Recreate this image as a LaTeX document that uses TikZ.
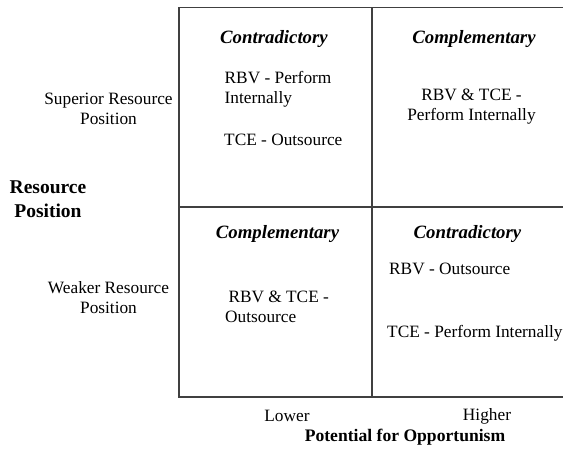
\documentclass[tikz,border=0pt]{standalone}
\usepackage{fontspec}
\setmainfont{Liberation Serif}
\begin{document}
\begin{tikzpicture}[x=1pt,y=-1pt,
  gridline/.style={line width=1.1pt,draw=black!75},
  txt/.style={inner sep=0pt,font=\fontsize{17.3}{20}\selectfont},
  hd/.style={inner sep=0pt,font=\fontsize{18.8}{20}\selectfont\bfseries\itshape},
  axis/.style={inner sep=0pt,font=\fontsize{17.6}{22}\selectfont\bfseries},
  raxis/.style={inner sep=0pt,align=center,font=\fontsize{19.5}{24}\selectfont\bfseries}]
\useasboundingbox (0,0) rectangle (563,454);
% grid coordinates
\coordinate (tl) at (179,7.5);
\coordinate (tr) at (566,7.5);
\coordinate (bl) at (179,397);
\coordinate (br) at (566,397);
\coordinate (tm) at (372,7.5);
\coordinate (bm) at (372,397);
\coordinate (ml) at (179,207);
\coordinate (mr) at (566,207);
\draw[gridline] (tr) -- (tl) -- (bl) -- (br);
\draw[gridline] (tm) -- (bm);
\draw[gridline] (ml) -- (mr);
% top-left cell
\node[hd] (c1) at (274,39) {Contradictory};
\node[txt,anchor=west,align=left] (c1a) at (224.5,89.5) {RBV - Perform\\Internally};
\node[txt,anchor=west] (c1b) at (224,140) {TCE - Outsource};
% top-right cell
\node[hd] (c2) at (474,39) {Complementary};
\node[txt,align=center] (c2a) at (471.5,106.5) {RBV \& TCE -\\Perform Internally};
% bottom-left cell
\node[hd] (c3) at (277.5,234) {Complementary};
\node[txt,anchor=west,align=left] (c3a) at (225,307) {\hspace{3.3pt}RBV \& TCE -\\Outsource};
% bottom-right cell
\node[hd] (c4) at (467.5,234) {Contradictory};
\node[txt,anchor=west] (c4a) at (389,269) {RBV - Outsource};
\node[txt,anchor=west] (c4b) at (387,333) {TCE - Perform Internally};
% left labels
\node[txt,align=center] (sup) at (108.5,108.5) {Superior Resource\\Position};
\node[raxis] (rp) at (48,199) {Resource\\Position};
\node[txt,align=center] (weak) at (108.5,297.5) {Weaker Resource\\Position};
% bottom labels
\node[txt] (lo) at (287,416) {Lower};
\node[txt] (hi) at (487,416) {Higher};
\node[axis] (po) at (405,437) {Potential for Opportunism};
\end{tikzpicture}
\end{document}
